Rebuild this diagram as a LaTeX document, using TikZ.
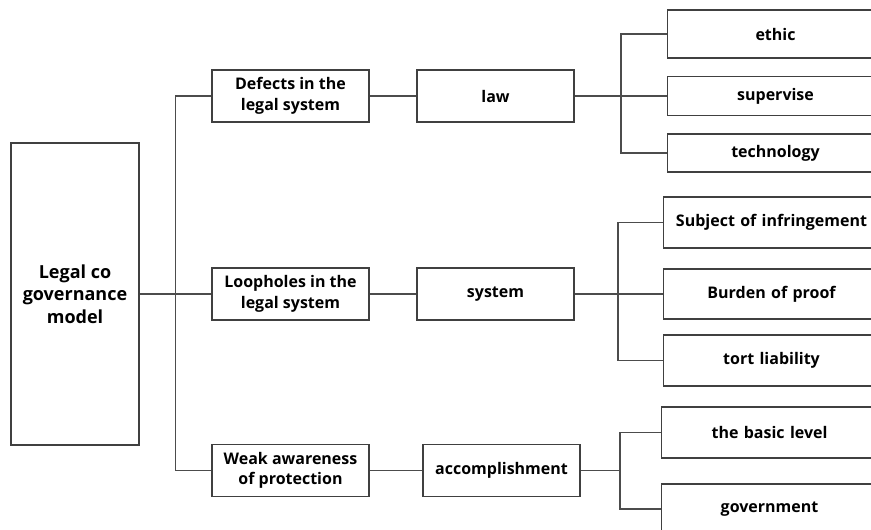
\documentclass[tikz,border=0pt]{standalone}
\usepackage{fontspec}
\setmainfont{Open Sans}
\usetikzlibrary{positioning}
\tikzset{box/.style={draw=black!75,line width=0.8pt,align=center,inner sep=2pt,
    font=\bfseries\fontsize{12}{15.5}\selectfont,minimum width=117.75pt,minimum height=39pt},
  leaf/.style={box,anchor=west,minimum width=162pt,text width=154pt},
  link/.style={draw=black!70,line width=0.9pt}}

\begin{document}
\begin{tikzpicture}[x=0.75pt,y=-0.75pt]
	\useasboundingbox (0,0) rectangle (871,529);
	\clip (0,0) rectangle (871,529);
	% root
	\node[box,minimum width=96pt,minimum height=226.5pt,font=\bfseries\fontsize{13.5}{17}\selectfont](model)at(75,294){Legal co\\governance\\model};
	% first level
	\node[box](defects)at(290.5,96){Defects in the\\legal system};
	\node[box](loopholes)at(290.5,294){Loopholes in the\\legal system};
	\node[box](weak)at(290.5,470.5){Weak awareness\\of protection};
	% second level
	\node[box](law)at(495.5,96){law};
	\node[box](system)at(495.5,294){system};
	\node[box](acc)at(501.5,470.5){accomplishment};
	% leaves
	\node[leaf,minimum height=36pt](ethic)at(667,34){ethic};
	\node[leaf,minimum height=29.25pt](supervise)at(667,96){supervise};
	\node[leaf,minimum height=28.5pt](tech)at(667,153){technology};
	\node[leaf,minimum height=38.25pt](subject)at(663,222.5){Subject of infringement};
	\node[leaf,minimum height=37.5pt](burden)at(663,294){Burden of proof};
	\node[leaf,minimum height=38.25pt](tort)at(663,360.5){tort liability};
	\node[leaf,minimum height=38.25pt](basic)at(661,432.5){the basic level};
	\node[leaf,minimum height=37.5pt](gov)at(661,509){government};
	\coordinate(j3)at(620,470.5);

	\draw[link](model.east)--(loopholes.west);
	\draw[link](defects.west)--++(-36,0)|-(weak.west);
	\draw[link](defects)--(law);
	\draw[link](loopholes)--(system);
	\draw[link](weak)--(acc);
	\draw[link](law.east)--(supervise.west);
	\draw[link](ethic.west)--++(-46,0)|-(tech.west);
	\draw[link](system.east)--(burden.west);
	\draw[link](subject.west)--++(-45,0)|-(tort.west);
	\draw[link](acc.east)--(j3);
	\draw[link](basic.west)--++(-41,0)|-(gov.west);
\end{tikzpicture}
\end{document}
